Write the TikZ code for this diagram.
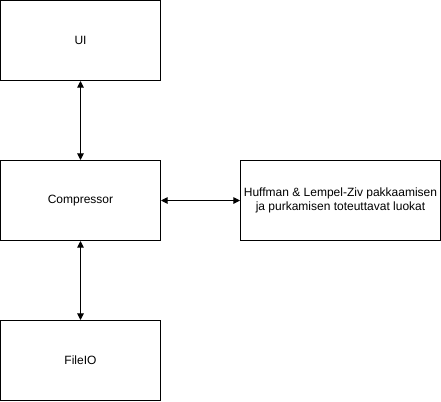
\documentclass[tikz,border=0pt]{standalone}
\usepackage{fontspec}
\setmainfont{Liberation Sans}
\usetikzlibrary{arrows.meta,positioning}
\tikzset{
  every picture/.append style={font=\fontsize{9}{11}\selectfont},
  box/.style  = {draw=black, line width=0.75pt, fill=white,
                 minimum width=120pt, minimum height=60pt,
                 inner sep=0pt, align=center},
  boxw/.style = {box, minimum width=150pt},
  arr/.style  = {{Triangle[length=5pt,width=5pt]}-{Triangle[length=5pt,width=5pt]},
                 line width=0.75pt},
}

\begin{document}
\begin{tikzpicture}[x=0.75pt,y=-0.75pt]
  \useasboundingbox (0,0) rectangle (441,401);
  \node[box]  (ui)   at (80.5,40.5)   {UI};
  \node[box]  (comp) at (80.5,200.5)  {Compressor};
  \node[box]  (fio)  at (80.5,360.5)  {FileIO};
  \node[boxw] (alg)  at (340.5,200.5)
    {Huffman \& Lempel-Ziv pakkaamisen\\ja purkamisen toteuttavat luokat};

  \draw[arr] (ui) -- (comp);
  \draw[arr] (comp) -- (fio);
  \draw[arr] (comp) -- (alg);
\end{tikzpicture}
\end{document}
